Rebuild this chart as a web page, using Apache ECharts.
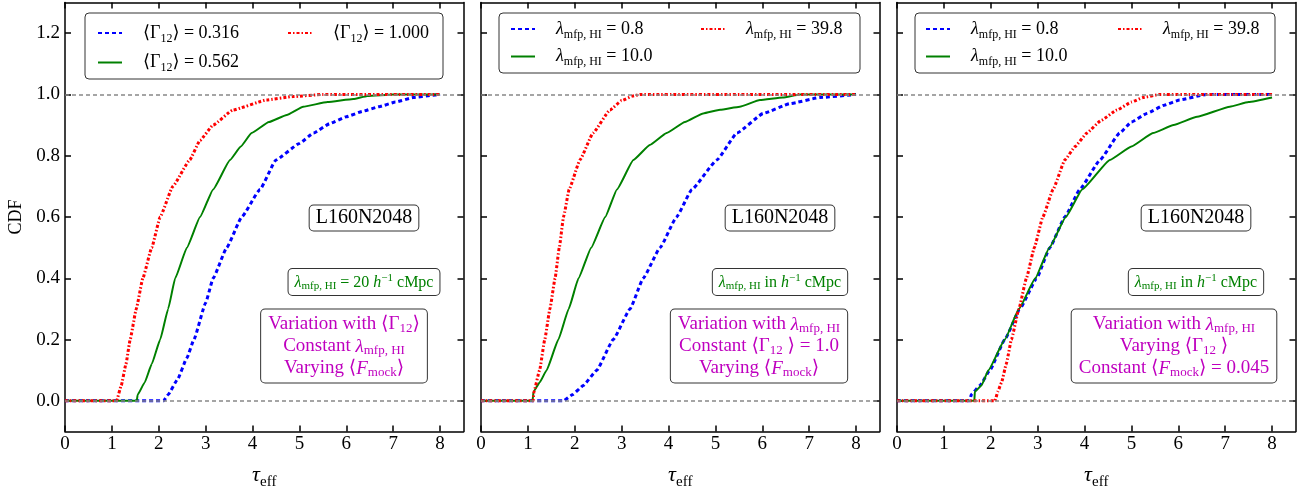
<!DOCTYPE html>
<html>
<head>
<meta charset="utf-8">
<script src="https://cdn.jsdelivr.net/npm/echarts@6/dist/echarts.min.js"></script>
<style>
html, body { margin: 0; padding: 0; background: #fff; }
#main { width: 1303px; height: 491px; }
</style>
</head>
<body>
<div id="main"></div>
<script>
// tick positions
var xTicks = [0, 1, 2, 3, 4, 5, 6, 7, 8];
var yTicks = [0, 0.2, 0.4, 0.6, 0.8, 1.0, 1.2];
var refLevels = [0, 1];

// panel 1 : variation with <Gamma12>  ([tau_eff, CDF])
var p1Gamma0316 = [[0,0],[2.1,0],[2.2,0.02],[2.4,0.07],[2.6,0.14],[2.75,0.2],[3.0,0.32],[3.16,0.4],[3.45,0.5],[3.77,0.6],[4.16,0.69],[4.5,0.786],[5.0,0.84],[5.3,0.874],[5.65,0.905],[6.0,0.927],[6.35,0.945],[6.7,0.96],[7.05,0.975],[7.43,0.99],[7.8,0.997],[8.0,1.0]];
var p1Gamma0562 = [[0,0],[1.53,0],[1.55,0.02],[1.7,0.06],[1.85,0.12],[2.03,0.2],[2.2,0.3],[2.35,0.4],[2.6,0.5],[2.88,0.6],[3.16,0.69],[3.52,0.786],[3.75,0.83],[3.98,0.874],[4.35,0.91],[4.73,0.933],[5.08,0.96],[5.6,0.975],[6.15,0.985],[6.45,0.995],[7.0,1.0],[8.0,1.0]];
var p1Gamma1000 = [[0,0],[1.1,0],[1.2,0.05],[1.3,0.12],[1.39,0.2],[1.52,0.3],[1.66,0.4],[1.85,0.5],[2.03,0.6],[2.3,0.7],[2.66,0.786],[2.88,0.85],[3.16,0.9],[3.58,0.949],[4.3,0.982],[4.86,0.993],[5.5,1.0],[8.0,1.0]];

// panel 2 : variation with lambda_mfp, constant <Gamma12> = 1.0
var p2Lambda08 = [[0,0],[1.76,0],[1.95,0.02],[2.18,0.05],[2.47,0.1],[2.82,0.2],[3.18,0.3],[3.46,0.4],[3.82,0.5],[4.17,0.6],[4.5,0.69],[5.03,0.786],[5.46,0.874],[6.02,0.938],[6.59,0.97],[7.23,0.99],[8.0,1.0]];
var p2Lambda100 = [[0,0],[1.1,0],[1.12,0.03],[1.25,0.06],[1.4,0.1],[1.65,0.2],[1.87,0.3],[2.08,0.4],[2.35,0.5],[2.65,0.6],[2.9,0.69],[3.25,0.786],[3.6,0.835],[3.96,0.874],[4.35,0.91],[4.74,0.938],[5.1,0.95],[5.52,0.96],[5.95,0.982],[6.44,0.99],[6.8,1.0],[8.0,1.0]];
var p2Lambda398 = [[0,0],[1.11,0],[1.13,0.03],[1.25,0.1],[1.36,0.2],[1.47,0.3],[1.58,0.4],[1.67,0.5],[1.76,0.6],[1.88,0.69],[2.11,0.786],[2.39,0.874],[2.75,0.949],[3.0,0.98],[3.24,0.995],[3.4,1.0],[8.0,1.0]];

// panel 3 : variation with lambda_mfp, constant <F_mock> = 0.045
var p3Lambda08 = [[0,0],[1.56,0],[1.58,0.02],[1.77,0.05],[1.98,0.1],[2.3,0.2],[2.62,0.3],[2.98,0.4],[3.26,0.5],[3.58,0.6],[3.9,0.69],[4.33,0.786],[4.75,0.874],[5.0,0.91],[5.33,0.938],[5.7,0.965],[6.03,0.982],[6.6,1.0],[8.0,1.0]];
var p3Lambda100 = [[0,0],[1.65,0],[1.66,0.03],[1.8,0.05],[1.95,0.1],[2.3,0.2],[2.6,0.3],[2.95,0.4],[3.25,0.5],[3.6,0.6],[3.95,0.69],[4.54,0.786],[5.0,0.83],[5.46,0.874],[5.9,0.9],[6.4,0.927],[7.1,0.96],[7.5,0.975],[8.0,0.99]];
var p3Lambda398 = [[0,0],[2.09,0],[2.15,0.03],[2.23,0.06],[2.33,0.12],[2.44,0.2],[2.6,0.3],[2.76,0.4],[2.93,0.5],[3.11,0.6],[3.33,0.69],[3.58,0.786],[3.8,0.83],[4.05,0.874],[4.35,0.915],[4.69,0.949],[5.0,0.975],[5.25,0.99],[5.6,1.0],[8.0,1.0]];

var FONT = "'Liberation Serif', 'DejaVu Serif', serif";

function mkRich(size, lh) {
    lh = lh || Math.round(size * 1.25);
    var small = Math.round(size * 0.68);
    return {
        t: { fontFamily: FONT, fontSize: size, lineHeight: lh },
        i: { fontFamily: FONT, fontSize: size, lineHeight: lh, fontStyle: 'italic' },
        s: { fontFamily: FONT, fontSize: small, lineHeight: Math.round(size * 0.55), verticalAlign: 'bottom' },
        p: { fontFamily: FONT, fontSize: small, lineHeight: Math.round(size * 0.55), verticalAlign: 'top' },
        g: { width: 16 }
    };
}

function gammaTxt(v) { return '{t|⟨Γ}{s|12}{t|⟩ = ' + v + '}'; }
function lambdaTxt(v) { return '{i|λ}{s|mfp, HI}{t| = ' + v + '}'; }

var blue = { color: '#0000ff', width: 3, type: [4, 3] };
var green = { color: '#008000', width: 2, type: 'solid' };
var red = { color: '#ff0000', width: 3, type: [3, 2, 1.5, 2] };

var labels = {
    p1b: gammaTxt('0.316'), p1g: gammaTxt('0.562'), p1r: gammaTxt('1.000'),
    p2b: lambdaTxt('0.8'), p2g: lambdaTxt('10.0'), p2r: lambdaTxt('39.8'),
    p3b: lambdaTxt('0.8'), p3g: lambdaTxt('10.0'), p3r: lambdaTxt('39.8')
};

var panels = [
    { left: 65, lines: [['p1b', p1Gamma0316, blue], ['p1g', p1Gamma0562, green], ['p1r', p1Gamma1000, red]],
      box: [85, 13, 358, 66], col1: 97, col2: 287, rowTop: 24, rowGap: 9 },
    { left: 481, lines: [['p2b', p2Lambda08, blue], ['p2g', p2Lambda100, green], ['p2r', p2Lambda398, red]],
      box: [499, 13, 361, 60], col1: 510, col2: 700, rowTop: 20, rowGap: 7 },
    { left: 897, lines: [['p3b', p3Lambda08, blue], ['p3g', p3Lambda100, green], ['p3r', p3Lambda398, red]],
      box: [915, 13, 360, 60], col1: 925, col2: 1117, rowTop: 20, rowGap: 7 }
];

var greenTxt = [
    '{i|λ}{s|mfp, HI}{t| = 20 }{i|h}{p|−1}{t| cMpc}',
    '{i|λ}{s|mfp, HI}{t| in }{i|h}{p|−1}{t| cMpc}',
    '{i|λ}{s|mfp, HI}{t| in }{i|h}{p|−1}{t| cMpc}'
];
var magentaTxt = [
    '{t|Variation with ⟨Γ}{s|12}{t|⟩}\n{t|Constant }{i|λ}{s|mfp, HI}\n{t|Varying ⟨}{i|F}{s|mock}{t|⟩}',
    '{t|Variation with }{i|λ}{s|mfp, HI}\n{t|Constant ⟨Γ}{s|12}{t| ⟩ = 1.0}\n{t|Varying ⟨}{i|F}{s|mock}{t|⟩}',
    '{t|Variation with }{i|λ}{s|mfp, HI}\n{t|Varying ⟨Γ}{s|12}{t| ⟩}\n{t|Constant ⟨}{i|F}{s|mock}{t|⟩ = 0.045}'
];
var magentaX = [344, 759, 1174];

var grids = [], xAxes = [], yAxes = [], series = [], legends = [], graphics = [];
var axisLineStyle = { color: '#000', width: 1.5 };
var labelFont = { color: '#000', fontFamily: FONT, fontSize: 19 };

panels.forEach(function (pn, k) {
    grids.push({ left: pn.left, top: 2.5, width: 398.5, height: 429, outerBoundsMode: 'none', containLabel: false });

    ['bottom', 'top'].forEach(function (pos) {
        xAxes.push({
            gridIndex: k, type: 'value', position: pos, min: 0, max: 8.5,
            splitLine: { show: false },
            axisLine: { onZero: false, lineStyle: axisLineStyle },
            axisTick: { inside: true, length: 6, lineStyle: axisLineStyle, customValues: xTicks },
            axisLabel: pos === 'bottom'
                ? Object.assign({ show: true, margin: 3, customValues: xTicks }, labelFont)
                : { show: false },
            name: pos === 'bottom' ? '{i|τ}{s|eff}' : '',
            nameLocation: 'middle', nameGap: 30,
            nameTextStyle: { color: '#000', rich: mkRich(22) }
        });
    });
    ['left', 'right'].forEach(function (pos) {
        var showLab = (pos === 'left' && k === 0);
        yAxes.push({
            gridIndex: k, type: 'value', position: pos, min: -0.1, max: 1.3,
            splitLine: { show: false },
            axisLine: { onZero: false, lineStyle: axisLineStyle },
            axisTick: { inside: true, length: 6, lineStyle: axisLineStyle, customValues: yTicks },
            axisLabel: showLab
                ? Object.assign({ show: true, margin: 5, customValues: yTicks,
                    formatter: function (v) { return v.toFixed(1); } }, labelFont)
                : { show: false },
            name: showLab ? 'CDF' : '',
            nameLocation: 'middle', nameGap: 40,
            nameTextStyle: { color: '#000', fontFamily: FONT, fontSize: 18 }
        });
    });

    pn.lines.forEach(function (ln, j) {
        var s = {
            name: ln[0], type: 'line', xAxisIndex: 2 * k, yAxisIndex: 2 * k,
            data: ln[1], symbol: 'none', showSymbol: false, animation: false,
            smooth: 0.12, smoothMonotone: 'x',
            lineStyle: ln[2], itemStyle: { color: ln[2].color }, z: 3
        };
        if (j === 0) {
            s.markLine = {
                silent: true, symbol: 'none', animation: false,
                label: { show: false },
                lineStyle: { color: '#888', type: [4, 3], width: 1.5 },
                data: refLevels.map(function (v) { return { yAxis: v }; })
            };
        }
        series.push(s);
    });

    var legBase = {
        orient: 'vertical', top: pn.rowTop, padding: 0,
        itemWidth: 24, itemHeight: 10, itemGap: pn.rowGap,
        selectedMode: false, itemStyle: { opacity: 0 },
        formatter: function (name) { return '{g|}' + labels[name]; },
        textStyle: { color: '#000', rich: mkRich(18) }
    };
    legends.push(Object.assign({ left: pn.col1, data: [pn.lines[0][0], pn.lines[1][0]] }, legBase));
    legends.push(Object.assign({ left: pn.col2, data: [pn.lines[2][0]] }, legBase));

    graphics.push({
        type: 'rect', z: 3,
        shape: { x: pn.box[0], y: pn.box[1], width: pn.box[2], height: pn.box[3], r: 4 },
        style: { fill: 'rgba(255,255,255,0.9)', stroke: '#333', lineWidth: 1 }
    });
    graphics.push({
        type: 'text', z: 5, x: pn.left + 299, y: 218,
        style: {
            text: 'L160N2048', fill: '#000', font: '20px ' + FONT,
            align: 'center', verticalAlign: 'middle',
            backgroundColor: '#fff', borderColor: '#333', borderWidth: 1, borderRadius: 4,
            padding: [3, 6, 2, 6]
        }
    });
    graphics.push({
        type: 'text', z: 5, x: pn.left + 299, y: 282,
        style: {
            text: greenTxt[k], rich: mkRich(16, 19), fill: '#008000',
            align: 'center', verticalAlign: 'middle',
            backgroundColor: '#fff', borderColor: '#333', borderWidth: 1, borderRadius: 4,
            padding: [4, 6, 3, 6]
        }
    });
    graphics.push({
        type: 'text', z: 5, x: magentaX[k], y: 346,
        style: {
            text: magentaTxt[k], rich: mkRich(19, 22), fill: '#bf00bf',
            align: 'center', verticalAlign: 'middle',
            backgroundColor: '#fff', borderColor: '#333', borderWidth: 1, borderRadius: 4,
            padding: [4, 7, 3, 7]
        }
    });
});

var chart = echarts.init(document.getElementById('main'));
chart.setOption({
    animation: false,
    backgroundColor: '#fff',
    grid: grids,
    xAxis: xAxes,
    yAxis: yAxes,
    legend: legends,
    graphic: graphics,
    series: series
});
</script>
</body>
</html>
